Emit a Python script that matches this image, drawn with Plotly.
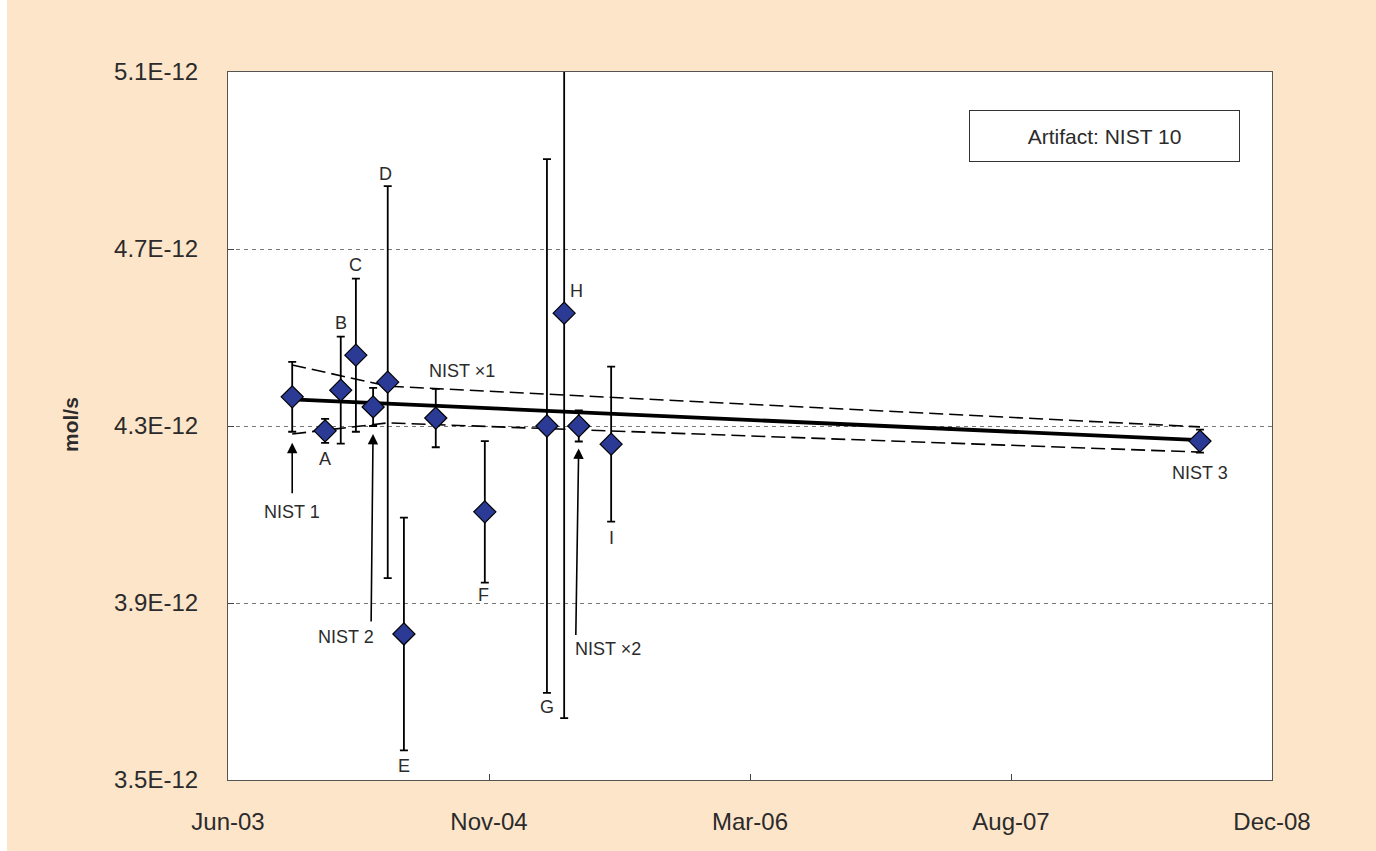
import pandas as pd
import plotly.graph_objects as go

# ---------------- data ----------------
names = ["NIST 1", "A", "B", "C", "NIST 2", "D", "E", "NIST ×1", "F", "G", "H", "NIST ×2", "I", "NIST 3"]
dates = ["2003-10-26", "2003-12-28", "2004-01-27", "2004-02-25", "2004-03-29", "2004-04-26",
         "2004-05-27", "2004-07-27", "2004-10-29", "2005-02-25", "2005-03-30", "2005-04-27",
         "2005-06-28", "2008-07-30"]
flow = [4.366, 4.289, 4.381, 4.460, 4.343, 4.399, 3.830, 4.318, 4.106, 4.300, 4.555, 4.300, 4.259, 4.266]  # x1E-12 mol/s
unc = [0.079, 0.027, 0.121, 0.173, 0.043, 0.443, 0.263, 0.066, 0.160, 0.603, 0.915, 0.035, 0.175, 0.026]

fit_dates = ["2003-10-26", "2008-07-30"]
fit_vals = [4.360, 4.268]
band_dates = ["2003-10-26", "2004-04-26", "2008-07-30"]
band_upper = [4.438, 4.390, 4.298]
band_lower = [4.282, 4.307, 4.241]

y_ticks = [3.5, 3.9, 4.3, 4.7, 5.1]
y_ticklabels = ["3.5E-12", "3.9E-12", "4.3E-12", "4.7E-12", "5.1E-12"]
x_start = "2003-06-25"
x_step_days = 500
n_xticks = 5
artifact_label = "Artifact: NIST 10"
y_title = "mol/s"

E = 1e-12
FONT = "Liberation Sans, Arial, Helvetica, sans-serif"
TXT = "#2b2b2b"
PEACH = "#FDE5CA"

fig = go.Figure()

# uncertainty band (dashed)
for band in (band_upper, band_lower):
    fig.add_trace(go.Scatter(
        x=band_dates, y=[v * E for v in band], mode="lines",
        line=dict(color="black", width=1.6, dash="14px,6px"), hoverinfo="skip"))

# fit line
fig.add_trace(go.Scatter(
    x=fit_dates, y=[v * E for v in fit_vals], mode="lines",
    line=dict(color="black", width=3.8), hoverinfo="skip"))

# measurements with error bars
fig.add_trace(go.Scatter(
    x=dates, y=[v * E for v in flow], mode="markers", text=names,
    marker=dict(symbol="diamond", size=17, color="#2B3A94",
                line=dict(color="black", width=1.2)),
    error_y=dict(type="data", array=[u * E for u in unc], symmetric=True,
                 color="black", thickness=1.8, width=4)))

# ---------------- labels ----------------
lab_font = dict(family=FONT, size=18, color=TXT)
placement = {
    "A": ("lo", 0, -16), "B": ("hi", 0, 14), "C": ("hi", 0, 14), "D": ("hi", -2, 12),
    "E": ("lo", 0, -16), "F": ("lo", -1, -12), "G": ("lo", 0, -14), "H": ("val", 12, 22),
    "I": ("lo", 0, -16), "NIST ×1": ("hi", 26, 18), "NIST 3": ("lo", 0, -20),
    "NIST 1": ("lo", 0, -80), "NIST 2": ("lo", -27, -211), "NIST ×2": ("lo", 29, -208),
}
arrows = {"NIST 1": (0, 63, 11), "NIST 2": (-2, 197, 8), "NIST ×2": (-3, 195, 7)}

def ref_val(i, ref):
    if ref == "hi":
        return (flow[i] + unc[i]) * E
    if ref == "lo":
        return (flow[i] - unc[i]) * E
    return flow[i] * E

for i, nm in enumerate(names):
    ref, dx, dy = placement[nm]
    fig.add_annotation(x=dates[i], y=ref_val(i, ref), text=nm, showarrow=False,
                       xshift=dx, yshift=dy, font=lab_font,
                       xanchor="center", yanchor="middle")
    if nm in arrows:
        ax, ay, so = arrows[nm]
        fig.add_annotation(x=dates[i], y=ref_val(i, "lo"), text="", showarrow=True,
                           ax=ax, ay=ay, standoff=so, arrowhead=2, arrowsize=1.3,
                           arrowwidth=1.6, arrowcolor="black")

# artifact box
fig.add_annotation(xref="paper", yref="paper", x=(1104.5 - 228) / 1044, y=(780 - 136) / 708,
                   text=artifact_label, showarrow=False, font=dict(family=FONT, size=21, color=TXT),
                   bgcolor="white", bordercolor="#333333", borderwidth=1, borderpad=2,
                   width=265, height=46, xanchor="center", yanchor="middle")

# y title
fig.add_annotation(xref="paper", yref="paper", x=(70 - 228) / 1044, y=(780 - 425) / 708,
                   text="<b>%s</b>" % y_title, textangle=-90, showarrow=False,
                   font=dict(family=FONT, size=21, color=TXT), xanchor="center", yanchor="middle")

# white strip at left edge
fig.add_shape(type="rect", xref="paper", yref="paper", x0=-1, x1=(7 - 228) / 1044, y0=-1, y1=2,
              fillcolor="white", line=dict(width=0), layer="below")

x_ticks = pd.date_range(x_start, periods=n_xticks, freq="%dD" % x_step_days)

fig.update_layout(
    width=1376, height=851,
    margin=dict(l=228, r=104, t=72, b=71),
    paper_bgcolor=PEACH, plot_bgcolor="white",
    showlegend=False,
    font=dict(family=FONT, color=TXT),
    xaxis=dict(type="date", range=[x_ticks[0], x_ticks[-1]], tickvals=list(x_ticks),
               tickformat="%b-%y", ticks="inside", ticklen=6, tickcolor="#444",
               showline=True, linecolor="#555", linewidth=1.2, mirror=True,
               showgrid=False, zeroline=False, ticklabelstandoff=20,
               tickfont=dict(family=FONT, size=24, color=TXT)),
    yaxis=dict(range=[y_ticks[0] * E, y_ticks[-1] * E], tickvals=[v * E for v in y_ticks],
               ticktext=y_ticklabels, ticks="inside", ticklen=6, tickcolor="#444",
               showline=True, linecolor="#555", linewidth=1.2, mirror=True,
               showgrid=True, gridcolor="#777", griddash="4px,4px", gridwidth=1,
               zeroline=False, ticklabelstandoff=24,
               tickfont=dict(family=FONT, size=24, color=TXT)),
)

fig.write_html("out.html")
